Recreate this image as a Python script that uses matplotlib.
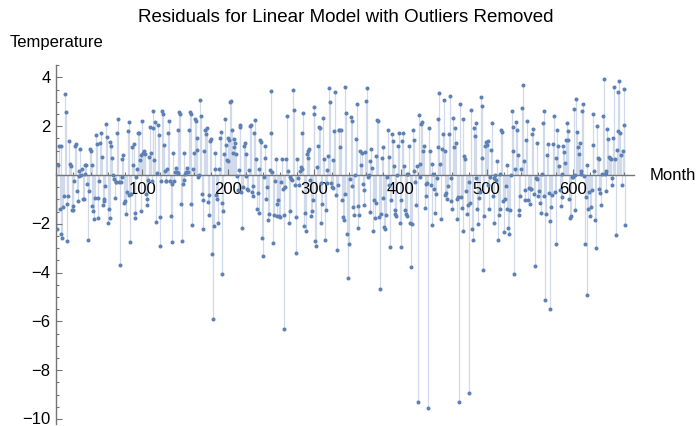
import numpy as np
import matplotlib
matplotlib.use('Agg')
import matplotlib.pyplot as plt
from matplotlib.ticker import MultipleLocator, FixedLocator

# Residuals, in month order (segments of ~70 months)
seg1 = [-2.2, 0.42, 1.17, -1.38, -2.4, 1.2, -2.6, -1.3, -0.87, 3.3, 2.6, -1.2, -2.7, -0.87, 1.4,
        0.45, 0.37, -1.42, -1.27, -1.42, -0.26, 1.17, 1.26, -0.66, -1.07, 0.18, -0.05, 1.05, 0.0,
        0.26, -0.97, -1.0, 0.03, 0.42, 0.4, -0.38, -2.65, -0.66, 1.05, 0.98, 0.42, -1.28, -1.49,
        -1.79, -0.93, 1.63, 1.26, -0.93, -1.76, -0.26, 1.31, 1.73, 0.75, -1.22, -0.97, -1.08,
        -0.46, 2.1, 1.56]
seg2 = [-1.95, -1.4, -1.75, 1.35, 1.17, 0.71, 0.0, -0.18, -0.94, -0.29, -0.29, 1.73, 2.3, -0.29,
        -3.67, -0.29, -0.08, 0.67, 0.8, -1.13, -1.08, -1.61, -0.7, 1.8, 2.17, -0.8, -2.75, -0.77,
        1.15, 0.42, 1.28, -1.76, -1.56, -0.08, 0.26, 1.72, 1.73, 0.6, -1.48, 0.83, 2.21, 0.9, 0.97,
        0.87, -0.77, -0.97, -1.24, -0.19, 0.74, 1.97, 0.92, -0.26, 1.93, 2.62, 0.63, 2.17, -1.93,
        0.1, 2.06, 1.63, -1.73, -2.92, -0.26, 2.62, 2.49, 1.24, 0.15, -0.25, -0.26, 0.26, 1.73]
seg3 = [2.2, -0.25, -1.7, -2.73, -0.37, 0.89, -0.23, 0.12, 0.29, 0.12, 0.08, 1.86, 2.58, 2.5,
        -1.17, -2.72, -0.37, 0.89, -0.22, 0.05, 0.12, 0.3, 0.12, 1.86, 2.58, 2.5, -1.17, -2.05,
        0.26, 0.9, 2.31, 2.2, 1.52, 1.04, -0.08, -0.01, 3.09, 2.43, -0.79, -1.01, -2.23, 0.98,
        1.83, 1.69, 1.93, -1.11, -0.83, -1.65, 1.38, 1.49, -3.22, -5.89, -2.09, 0.26, 0.9, -0.81,
        -0.97, -1.97, 0.26, 1.52, 1.76, -1.13, -4.04, -1.48, 0.87, 2.3, 1.22]
seg4 = [0.6, 0.56, 1.53, 1.42, 2.99, 3.02, 1.83, 0.9, 1.46, 1.15, 1.33, 0.85, -0.04, -0.63, 0.19,
        1.97, 2.06, -0.7, -2.17, -0.49, 1.17, 1.33, 0.85, -0.05, -0.56, -0.63, 0.19, 1.99, 2.06,
        -0.7, -0.86, -0.45, 1.73, 2.24, 0.64, -1.38, -0.74, -1.54, 0.23, 1.42, 1.35, -2.58, -3.32,
        -0.08, 0.7, 1.19, -1.0, -0.49, -1.86, -1.58, 0.19, 3.46, 1.73, 0.12, -2.79, -1.63, -0.26,
        0.67, -1.68, -1.2, -1.04, -1.68, -1.72, -0.29, 0.67, -0.56, -1.63, -6.3]
seg5 = [-0.49, 0.64, 2.42, 0.15, -1.97, -1.49, -0.08, -0.18, -0.22, 3.47, 2.65, -0.4, -1.72, -3.2,
        0.67, -0.12, -0.42, 0.16, 0.33, 0.26, 1.73, 2.55, -2.1, -1.54, -2.31, 0.87, 0.7, 0.97, 1.05,
        -0.22, -1.68, -1.49, -1.01, 2.49, 2.79, -2.72, -2.92, 0.33, 1.19, 1.97, 1.93, -0.33, -1.97,
        -1.17, 2.34, 0.67, -2.65, -1.45, -0.31, 0.22, 0.77, 3.57, 2.99, -0.31, -0.49, -0.53, 0.6,
        1.79, 3.4, -0.83, -3.06, -0.4, 1.83, 1.86, 1.15, 1.86, -1.04, -1.72, -1.86, -0.77]
seg6 = [3.61, 2.55, -2.43, -4.22, -2.84, -0.18, 2.36, 2.23, -0.45, -1.31, -1.63, -0.01, 1.46, 2.92,
        -1.28, -2.16, -1.65, 0.97, 0.42, 0.9, -0.36, -1.22, -0.63, 0.94, 3.02, 3.57, -0.08, 0.01,
        -1.52, 0.56, 1.05, 0.29, -2.3, -1.01, -1.76, -1.15, 0.77, 2.24, 2.21, -1.72, -4.66, -1.61,
        0.7, 1.15, -0.94, -2.13, -2.23, -1.63, -0.08, 1.83, 0.74, -0.42, -2.95, -1.01, 1.69, 1.38,
        0.37, -1.45, -1.58, -1.69, 0.01, 1.19, 1.73, -1.97, -2.95, -1.01, 1.39, 1.73]
seg7 = [0.37, -1.42, -1.58, -1.69, 0.05, 0.05, 1.19, -1.97, -3.77, -2.02, 1.83, 1.45, 0.15, -0.29,
        -1.24, 0.37, -9.3, 2.47, 0.46, -0.08, 2.08, 2.17, 0.97, 1.19, -1.35, -0.36, -0.87, -0.31,
        -9.54, 1.94, 0.97, -0.42, -2.06, 0.46, 0.05, -0.56, -1.56, -0.77, -0.12, 1.15, 2.31, 3.36,
        0.46, -1.82, 1.05, 1.67, 3.06, 0.97, -0.83, -0.72, -0.97, -0.45, 1.69, 3.22, -0.11, -1.07,
        -1.41, 2.35, 1.15, 1.94, 1.31, -0.97, -1.79, -0.9, -9.3, 2.92, -0.9]
seg8 = [-1.35, -2.3, 2.31, 0.78, 0.67, -0.67, -1.58, -1.22, -0.29, -8.93, -1.13, 2.68, -2.23, -2.68,
        1.93, 1.6, 2.14, -0.12, -1.38, -1.99, -0.94, -0.7, 3.2, 2.81, 0.71, -3.88, -1.68, 1.19, 1.35,
        1.22, 1.38, -0.4, -1.38, -0.08, 1.01, 2.14, -0.86, -1.97, -0.12, 0.01, -0.22, 0.56, -2.68,
        -1.65, -1.41, 0.05, 1.83, 1.76, -1.08, -2.34, -0.97, -0.45, 0.42, -1.41, -2.17, -2.4, -1.45,
        -0.01, 2.62, 1.97, 0.97, -4.04, 0.26, 2.17, 1.83, 0.8, -1.45, -1.63, -0.86]
seg9 = [0.23, 2.75, 3.67, 0.56, -0.63, -1.04, 1.45, 2.2, -1.01, -0.52, -1.17, -0.56, -0.59, 1.67,
        1.9, -0.77, -3.73, -0.12, 1.33, -0.18, -0.87, -0.66, -1.15, -1.54, 0.03, 2.14, 2.61, -0.87,
        -5.11, -1.58, 0.8, 1.28, -0.74, -5.51, -1.89, -1.31, -0.83, 1.28, 2.42, -0.7, -2.81, 0.71,
        1.83, 1.19, 0.37, -0.63, -1.27, -0.9, 0.05, 1.19, 0.94, 0.51, 1.42, 2.13, 1.8, 1.45, -1.0,
        -1.76, -1.69, -0.1, -0.08, 2.69, -0.01, -1.42, 3.13, 1.76]
seg10 = [1.15, 0.87, 1.31, 0.05, 0.15, 2.61, 2.92, -0.04, -2.81, -0.9, -4.93, 0.4, -1.38, -0.7,
         -1.68, -1.31, -0.6, 1.24, 2.51, 0.15, -1.86, -2.98, 1.99, 0.7, 0.64, -0.56, -0.74, -1.24,
         0.05, 2.4, 3.92, 0.05, -0.66, 0.15, 1.87, 1.46, 0.74, 0.7, 0.67, -0.42, -0.12, 1.52, 3.61,
         0.67, -2.47, 1.04, 1.8, 3.4, 3.84, 1.73, 0.8, -0.4, 0.97, 2.04, 3.51, -2.06]

residuals = np.array(seg1 + seg2 + seg3 + seg4 + seg5 + seg6 + seg7 + seg8 + seg9 + seg10)
months = np.arange(1, len(residuals) + 1)

title = "Residuals for Linear Model with Outliers Removed"
x_label = "Month"
y_label = "Temperature"
x_ticks = [100, 200, 300, 400, 500, 600]
y_ticks = [-10, -8, -6, -4, -2, 2, 4]

plt.rcParams['font.family'] = ['Liberation Sans', 'DejaVu Sans']

W, H = 698, 427
fig = plt.figure(figsize=(W / 100, H / 100), dpi=100)

x0_px, px_per_month, x_max = 56.2, 0.861, 671
y0_px, px_per_unit, y_top, y_bot = 176, 24.4, 4.5, -10.2
top_px = y0_px - y_top * px_per_unit
bot_px = y0_px - y_bot * px_per_unit
ax = fig.add_axes([x0_px / W, (H - bot_px) / H,
                   x_max * px_per_month / W, (bot_px - top_px) / H])

point_color = '#5E81B5'
fill_color = '#D0DAEA'

ax.vlines(months, 0, residuals, colors=fill_color, linewidth=0.9, zorder=1)
ax.plot(months, residuals, 'o', color=point_color, markersize=2.9,
        markeredgewidth=0, zorder=3)

ax.set_xlim(0, x_max)
ax.set_ylim(y_bot, y_top)

for s in ['top', 'right']:
    ax.spines[s].set_visible(False)
ax.spines['left'].set_position(('data', 0))
ax.spines['bottom'].set_position(('data', 0))
axis_color = '#757575'
for s in ['left', 'bottom']:
    ax.spines[s].set_color(axis_color)
    ax.spines[s].set_linewidth(1.0)
    ax.spines[s].set_zorder(2)

ax.xaxis.set_major_locator(FixedLocator(x_ticks))
ax.xaxis.set_minor_locator(MultipleLocator(20))
ax.yaxis.set_major_locator(FixedLocator(y_ticks))
ax.yaxis.set_minor_locator(MultipleLocator(0.5))
ax.tick_params(which='both', direction='in', color=axis_color, labelsize=12,
               labelcolor='black', width=0.8)
ax.tick_params(which='major', length=4.5)
ax.tick_params(which='minor', length=2.5)
ax.tick_params(axis='x', which='major', pad=4)
ax.tick_params(axis='y', which='major', pad=4)
for lbl in ax.get_yticklabels():
    lbl.set_verticalalignment('center')

fig.text(0.496, 1 - 18 / H, title, ha='center', va='center', fontsize=13.5)
fig.text(x0_px / W, 1 - 42 / H, y_label, ha='center', va='center', fontsize=12)
fig.text(650 / W, 1 - y0_px / H, x_label, ha='left', va='center', fontsize=12)

fig.savefig('out.png', dpi=100)
